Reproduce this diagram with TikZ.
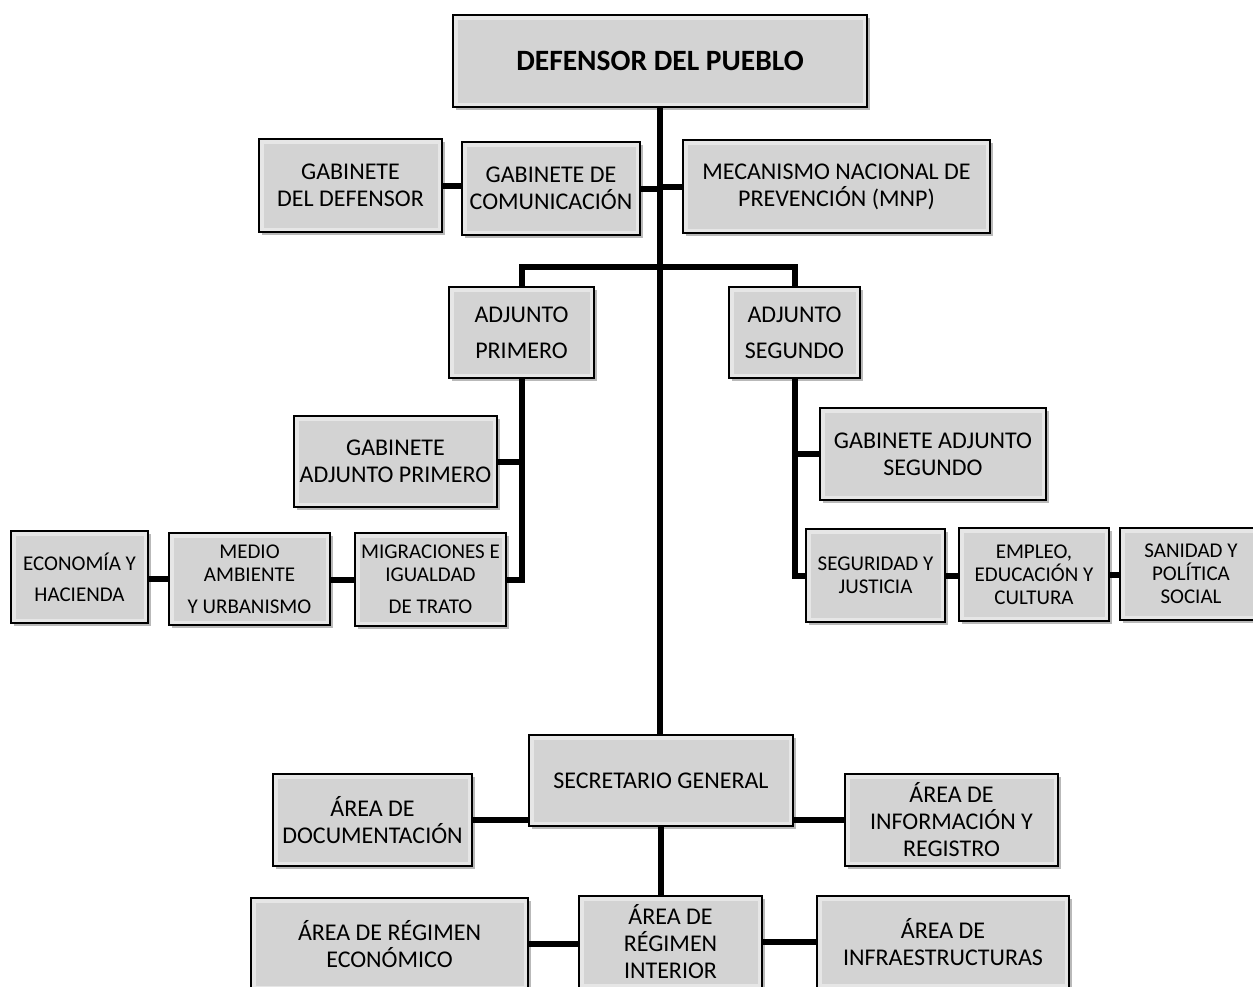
\documentclass[tikz,border=0pt]{standalone}
\usepackage{fontspec}
\setmainfont{Carlito}
\usetikzlibrary{positioning,shadows}

\definecolor{boxgray}{HTML}{D3D3D3}

\begin{document}
\begin{tikzpicture}[
    x=1pt, y=-1pt,
    box/.style={draw=black, line width=1.3pt, fill=boxgray, inner sep=0pt,
        align=center, font=\fontsize{24}{27}\selectfont,
        drop shadow={shadow xshift=2.5pt, shadow yshift=-2.5pt, fill=black!55},
        path picture={\draw[white, opacity=0.45, line width=9pt]
            (path picture bounding box.south west) rectangle (path picture bounding box.north east);}},
    smallbox/.style={box, font=\fontsize{21}{23}\selectfont},
    link/.style={line width=6pt, black}
]
    \useasboundingbox (0,0) rectangle (1253,986);

    % top level
    \node[box, minimum width=414pt, minimum height=92pt, font=\fontsize{29.5}{32}\selectfont\bfseries]
        (def) at (660,61) {DEFENSOR DEL PUEBLO};
    \node[box, minimum width=183pt, minimum height=93pt] (gdef) at (350.5,185.5) {GABINETE\\DEL DEFENSOR};
    \node[box, minimum width=178pt, minimum height=93pt] (com) at (551,188.5) {GABINETE DE\\COMUNICACIÓN};
    \node[box, minimum width=307pt, minimum height=93pt] (mnp) at (836.5,186.5) {MECANISMO NACIONAL DE\\PREVENCIÓN (MNP)};

    % adjuntos
    \node[box, minimum width=145pt, minimum height=91pt] (adj1) at (521.5,332.5) {ADJUNTO\\[9pt]PRIMERO};
    \node[box, minimum width=131pt, minimum height=91pt] (adj2) at (794.5,332.5) {ADJUNTO\\[9pt]SEGUNDO};
    \node[box, minimum width=203pt, minimum height=91pt] (gadj1) at (395.5,461.5) {GABINETE\\ADJUNTO PRIMERO};
    \node[box, minimum width=226pt, minimum height=92pt] (gadj2) at (933,454) {GABINETE ADJUNTO\\SEGUNDO};

    % areas adjunto primero
    \node[smallbox, minimum width=151pt, minimum height=93pt] (mig) at (430.5,579.5) {MIGRACIONES E\\IGUALDAD\\[9pt]DE TRATO};
    \node[smallbox, minimum width=161pt, minimum height=92pt] (med) at (249.5,579) {MEDIO\\AMBIENTE\\[9pt]Y URBANISMO};
    \node[smallbox, minimum width=137pt, minimum height=92pt] (eco) at (79.5,577) {ECONOMÍA Y\\[8pt]HACIENDA};

    % areas adjunto segundo
    \node[smallbox, minimum width=139pt, minimum height=93pt] (seg) at (875.5,575.5) {SEGURIDAD Y\\JUSTICIA};
    \node[smallbox, minimum width=150pt, minimum height=93pt] (emp) at (1034,574.5) {EMPLEO,\\EDUCACIÓN Y\\CULTURA};
    \node[smallbox, minimum width=142pt, minimum height=92pt] (san) at (1191,574) {SANIDAD Y\\POLÍTICA\\SOCIAL};

    % secretaria general
    \node[box, minimum width=264pt, minimum height=91pt] (sec) at (661,780.5) {SECRETARIO GENERAL};
    \node[box, minimum width=199pt, minimum height=92pt] (doc) at (372.5,820) {ÁREA DE\\DOCUMENTACIÓN};
    \node[box, minimum width=213pt, minimum height=92pt] (inf) at (951.5,820) {ÁREA DE\\INFORMACIÓN Y\\REGISTRO};
    \node[box, minimum width=183pt, minimum height=92pt] (rint) at (670.5,942) {ÁREA DE\\RÉGIMEN\\INTERIOR};
    \node[box, minimum width=277pt, minimum height=92pt] (reco) at (389.5,944) {ÁREA DE RÉGIMEN\\ECONÓMICO};
    \node[box, minimum width=252pt, minimum height=92pt] (infr) at (943,942) {ÁREA DE\\INFRAESTRUCTURAS};

    % connectors
    \draw[link] (def.south) -- (def.south |- sec.north);
    \draw[link] (com.east) -- (com.east -| def.south);
    \draw[link] (mnp.west) -- (mnp.west -| def.south);
    \draw[link] (gdef.east) -- (com.west |- gdef.east);
    \draw[link] (adj1.north) -- ++(0,-19) -| (adj2.north);
    \draw[link] (adj1.south) |- (mig.east);
    \draw[link] (gadj1.east) -- (gadj1.east -| adj1.south);
    \draw[link] (mig.west) -- (med.east |- mig.west);
    \draw[link] (med.west) -- (eco.east |- med.west);
    \draw[link] (adj2.south) |- (seg.west);
    \draw[link] (gadj2.west) -- (gadj2.west -| adj2.south);
    \draw[link] (seg.east) -- (emp.west |- seg.east);
    \draw[link] (emp.east) -- (san.west |- emp.east);
    \draw[link] (doc.east) -- (sec.west |- doc.east);
    \draw[link] (inf.west) -- (sec.east |- inf.west);
    \draw[link] (sec.south) -- (sec.south |- rint.north);
    \draw[link] (reco.east) -- (rint.west |- reco.east);
    \draw[link] (rint.east) -- (infr.west |- rint.east);
\end{tikzpicture}
\end{document}
